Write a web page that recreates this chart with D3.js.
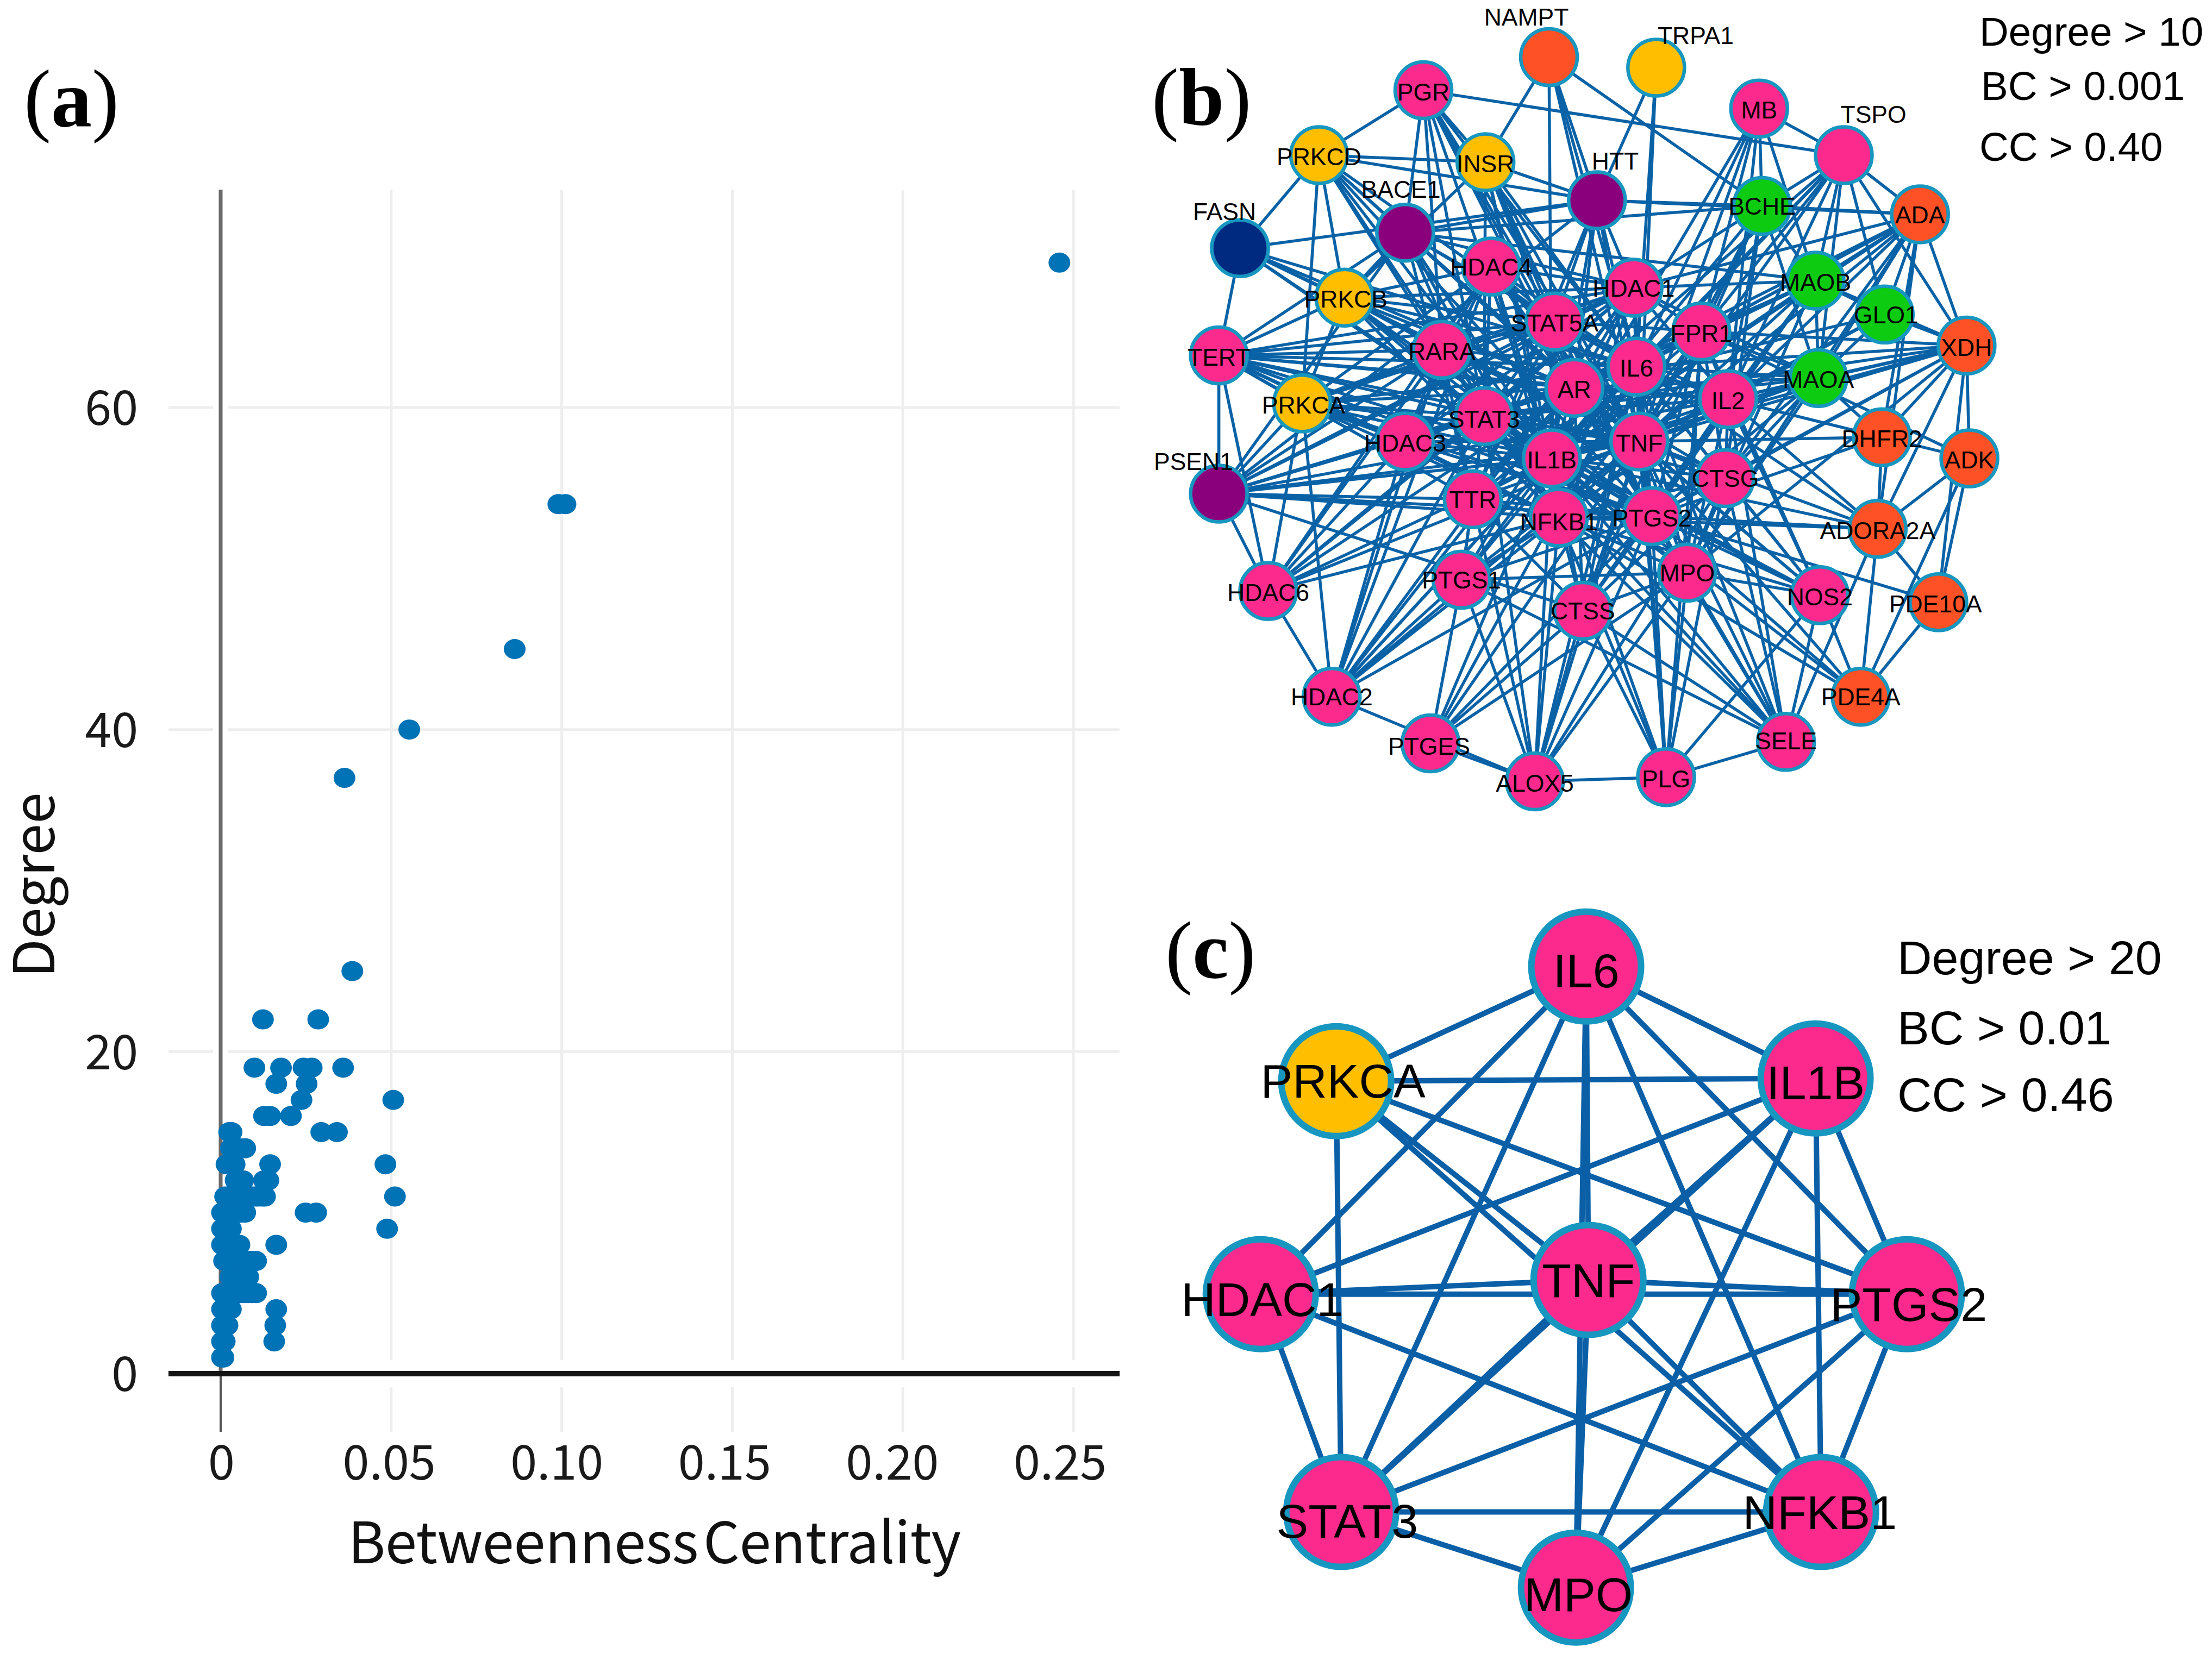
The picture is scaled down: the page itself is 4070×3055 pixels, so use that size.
<!DOCTYPE html>
<html>
<head>
<meta charset="utf-8">
<script src="https://cdn.jsdelivr.net/npm/d3@7/dist/d3.min.js"></script>
<style>
html,body{margin:0;padding:0;background:#fff}
svg{display:block}
</style>
</head>
<body>
<script>
// ---------- panel (a) data ----------
const xTickValues = [0, 0.05, 0.10, 0.15, 0.20, 0.25];
const xTickLabels = ["0", "0.05", "0.10", "0.15", "0.20", "0.25"];
const yTickValues = [0, 20, 40, 60];
const xAxisTitle = "Betweenness Centrality";
const yAxisTitle = "Degree";
const betweenness = [
  0.2459, 0.1011, 0.0990, 0.0862, 0.0553, 0.0363, 0.0386,
  0.0124, 0.0286,
  0.0099, 0.0177, 0.0243, 0.0267, 0.0359,
  0.0163, 0.0252,
  0.0237, 0.0506,
  0.0127, 0.0145, 0.0206,
  0.0025, 0.0032, 0.0295, 0.0341,
  0.0030, 0.0042, 0.0055, 0.0072,
  0.0017, 0.0030, 0.0041, 0.0145, 0.0483,
  0.0044, 0.0055, 0.0066, 0.0127, 0.0140,
  0.0013, 0.0022, 0.0030, 0.0040, 0.0050, 0.0060, 0.0070, 0.0080, 0.0090, 0.0100, 0.0110, 0.0122, 0.0130, 0.0511,
  0.0004, 0.0012, 0.0020, 0.0030, 0.0040, 0.0050, 0.0060, 0.0072, 0.0249, 0.0280,
  0.0004, 0.0011, 0.0018, 0.0030, 0.0488,
  0.0004, 0.0012, 0.0020, 0.0028, 0.0035, 0.0045, 0.0055, 0.0163,
  0.0010, 0.0020, 0.0030, 0.0040, 0.0050, 0.0060, 0.0070, 0.0080, 0.0092, 0.0104,
  0.0028, 0.0036, 0.0045, 0.0052, 0.0060, 0.0070, 0.0081,
  0.0004, 0.0012, 0.0020, 0.0030, 0.0040, 0.0050, 0.0060, 0.0070, 0.0080, 0.0092, 0.0104,
  0.0004, 0.0012, 0.0020, 0.0030, 0.0163,
  0.0004, 0.0012, 0.0020, 0.0160,
  0.0004, 0.0012, 0.0157,
  0.0004, 0.0008
];
const degreeA = [
  69, 54, 54, 45, 40, 37, 25,
  22, 22,
  19, 19, 19, 19, 19,
  18, 18,
  17, 17,
  16, 16, 16,
  15, 15, 15, 15,
  14, 14, 14, 14,
  13, 13, 13, 13, 13,
  12, 12, 12, 12, 12,
  11, 11, 11, 11, 11, 11, 11, 11, 11, 11, 11, 11, 11, 11,
  10, 10, 10, 10, 10, 10, 10, 10, 10, 10,
  9, 9, 9, 9, 9,
  8, 8, 8, 8, 8, 8, 8, 8,
  7, 7, 7, 7, 7, 7, 7, 7, 7, 7,
  6, 6, 6, 6, 6, 6, 6,
  5, 5, 5, 5, 5, 5, 5, 5, 5, 5, 5,
  4, 4, 4, 4, 4,
  3, 3, 3, 3,
  2, 2, 2,
  1, 1
];

// ---------- panel (b) data: layout ----------
const nodesB = ["NAMPT","TRPA1","PGR","MB","TSPO","PRKCD","INSR","HTT","BCHE","ADA","BACE1","FASN","HDAC4","HDAC1","MAOB","PRKCB","STAT5A","GLO1","FPR1","XDH","RARA","TERT","IL6","AR","MAOA","IL2","PRKCA","STAT3","HDAC3","TNF","DHFR2","ADK","IL1B","CTSG","TTR","PSEN1","NFKB1","PTGS2","ADORA2A","MPO","PTGS1","NOS2","HDAC6","PDE10A","CTSS","HDAC2","PDE4A","PTGES","SELE","PLG","ALOX5"];
const layoutXB = [1098,1174,1009,1247,1307,935,1053,1132,1249,1361,996,879,1057,1158,1287,953,1102,1336,1206,1394,1022,864,1160,1116,1289,1225,923,1052,996,1162,1334,1396,1100,1223,1044,864,1105,1171,1331,1196,1036,1290,899,1374,1122,944,1319,1014,1266,1181,1088];
const layoutYB = [40.5,48,64,77,110,110,115,142,146,152,165,176,189,204,199,211,228,223,235,245,248,252,260,275,268,283,286,295,313,313,310,325,325,339,354,350,367,366,375,406,411,422,419,427,433,494,494,527,526,551,554];
const groupB = ["enzyme","gold","pink","pink","pink","gold","gold","purple","green","enzyme","purple","navy","pink","pink","green","gold","pink","green","pink","enzyme","pink","pink","pink","pink","green","pink","gold","pink","pink","pink","enzyme","enzyme","pink","pink","pink","purple","pink","pink","enzyme","pink","pink","pink","pink","enzyme","pink","pink","enzyme","pink","pink","pink","pink"];
const labelXB = [1082,1202,1009,1247,1328,935,1053,1145,1249,1361,993,868,1057,1158,1287,954,1102,1337,1206,1394,1022,864,1160,1116,1289,1225,924,1052,996,1162,1334,1396,1100,1223,1044,846,1105,1171,1331,1196,1036,1290,899,1372,1122,944,1319,1013,1266,1181,1088];
const labelYB = [12,25,65,78,81,111,116,114,146,152,134,150,189,204,200,212,229,223,236,246,249,253,261,276,269,284,287,297,314,314,311,326,326,339,354,327,370,367,376,406,411,423,420,428,433,494,494,529,525,552,555];
// adjacency: first name in each row, then its neighbours
const adjacencyB = [
"TNF IL6 IL1B AR STAT3 NFKB1 PTGS2 IL2 FPR1 HDAC1 STAT5A RARA MPO CTSG TTR HDAC3 HDAC4 PTGS1 CTSS HDAC2 HDAC6 PRKCA PRKCB PRKCD INSR PGR NAMPT TRPA1 MB TSPO HTT BACE1 FASN TERT PSEN1 BCHE MAOB MAOA GLO1 ADA XDH DHFR2 ADORA2A PDE4A NOS2 SELE PLG ALOX5 PTGES",
"IL6 IL1B AR STAT3 NFKB1 PTGS2 IL2 FPR1 HDAC1 STAT5A RARA MPO CTSG TTR HDAC3 HDAC4 PTGS1 CTSS HDAC2 PRKCA PRKCB INSR PGR NAMPT TRPA1 MB TSPO HTT BACE1 FASN TERT PSEN1 MAOB MAOA ADA XDH ADORA2A NOS2 SELE PLG ALOX5 PTGES",
"IL1B AR STAT3 NFKB1 PTGS2 IL2 FPR1 HDAC1 STAT5A RARA MPO CTSG TTR HDAC3 HDAC4 PTGS1 CTSS HDAC2 HDAC6 PRKCA PRKCB PRKCD INSR PGR NAMPT MB TSPO HTT BACE1 FASN TERT PSEN1 BCHE MAOB MAOA ADA XDH ADORA2A PDE4A NOS2 SELE PLG ALOX5 PTGES",
"AR STAT3 NFKB1 PTGS2 IL2 FPR1 HDAC1 STAT5A RARA MPO CTSG TTR HDAC3 HDAC4 PTGS1 CTSS HDAC2 HDAC6 PRKCA PRKCB INSR PGR TSPO HTT BACE1 FASN TERT PSEN1 MAOB MAOA ADA GLO1 NOS2 SELE",
"STAT3 NFKB1 PTGS2 IL2 FPR1 HDAC1 STAT5A RARA MPO CTSG TTR HDAC3 HDAC4 PTGS1 HDAC2 HDAC6 PRKCA PRKCB PRKCD INSR PGR BACE1 FASN TERT PSEN1 MAOA XDH NOS2 SELE ALOX5",
"NFKB1 PTGS2 IL2 FPR1 HDAC1 STAT5A RARA MPO CTSG TTR HDAC3 HDAC4 PTGS1 CTSS HDAC2 HDAC6 PRKCA PRKCB PRKCD INSR HTT BACE1 TERT PSEN1 ADORA2A PDE4A NOS2 SELE PLG ALOX5",
"PTGS2 IL2 FPR1 HDAC1 STAT5A RARA MPO CTSG TTR HDAC3 HDAC4 PTGS1 CTSS HDAC2 PRKCA PRKCB PRKCD INSR TERT PSEN1 MAOB ADORA2A PDE4A NOS2 SELE PLG ALOX5 PTGES XDH",
"PTGS2 IL2 FPR1 HDAC1 STAT5A RARA MPO CTSG TTR PTGS1 CTSS PRKCA PRKCD PGR TERT PSEN1 ADORA2A MAOB MAOA XDH PDE4A PDE10A NOS2 SELE PLG ALOX5 PTGES DHFR2",
"IL2 FPR1 HDAC1 STAT5A MPO CTSG CTSS TSPO MB MAOA MAOB BCHE ADA XDH GLO1 DHFR2 ADORA2A NOS2 SELE TERT PSEN1",
"FPR1 HDAC1 STAT5A MPO CTSG MB MAOB MAOA BCHE ADA XDH TSPO ADK NOS2 PLG",
"HDAC1 STAT5A RARA HDAC3 HDAC4 HDAC2 HDAC6 TTR PRKCA PRKCB PSEN1 TERT BACE1 HTT BCHE MAOB MAOA ADA",
"STAT5A RARA HDAC3 HDAC4 TTR PRKCA PRKCB PRKCD PSEN1 TERT PGR INSR HTT BACE1",
"RARA HDAC3 HDAC4 TTR PRKCA PRKCB PGR TERT HDAC2 HDAC6 PSEN1",
"HDAC3 HDAC4 HDAC2 HDAC6 PRKCA TERT",
"HDAC4 HDAC2 HDAC6 PRKCA PRKCB",
"HDAC2 HDAC6",
"HDAC6 TERT PSEN1",
"TTR CTSS PTGS1 PSEN1 BACE1 HTT TERT ALOX5",
"MPO CTSS CTSG NOS2 SELE PLG ALOX5 PTGS1 PTGES ADA XDH MAOB MAOA",
"CTSG CTSS NOS2 SELE PLG ALOX5 XDH ADA MAOA BCHE",
"CTSS PLG ALOX5 PTGES SELE PSEN1 MAOB BCHE",
"PTGS1 ALOX5 PTGES HDAC2 SELE",
"SELE PLG ADORA2A",
"PLG ALOX5",
"ALOX5 PTGES HDAC2",
"PRKCA TERT PRKCB PRKCD PSEN1 HDAC2 HDAC6",
"PRKCB PRKCD FASN TERT INSR BACE1",
"PRKCD INSR PGR HTT BACE1",
"INSR PGR NAMPT HTT",
"PGR TSPO BACE1 PRKCD",
"NAMPT HTT BCHE",
"TRPA1 HTT",
"FASN HTT PRKCD TERT",
"TERT PSEN1 BACE1",
"BACE1 HTT PSEN1 BCHE MAOB",
"HTT BCHE PSEN1 ADA",
"MB TSPO BCHE MAOB",
"TSPO BCHE MAOB MAOA GLO1 XDH ADA",
"BCHE ADA MAOB MAOA",
"MAOB MAOA GLO1 XDH ADA",
"MAOA XDH ADA GLO1 DHFR2",
"GLO1 XDH ADA",
"ADA XDH DHFR2 ADORA2A",
"XDH ADK DHFR2 ADORA2A PDE10A",
"DHFR2 ADK ADORA2A",
"ADK ADORA2A PDE10A PDE4A",
"ADORA2A PDE10A PDE4A SELE",
"PDE10A PDE4A",
"NOS2 PDE4A PLG SELE",
];

// ---------- panel (c) data ----------
const nodesC = ["IL6","PRKCA","IL1B","HDAC1","TNF","PTGS2","STAT3","NFKB1","MPO"];
const groupC = ["pink","gold","pink","pink","pink","pink","pink","pink","pink"];
const layoutXC = [1124.4,947.2,1287,893.7,1126,1351.7,950.7,1290.9,1117.1];
const layoutYC = [685.3,766.6,764.6,917.6,907.5,917.6,1072,1072,1125.6];
const labelXC = [1124.4,952,1287,894.7,1126,1353,955,1290,1118.8];
const labelYC = [688,766,767,921,907.5,924.4,1078,1072,1130];
const adjacencyC = [
"IL6 PRKCA IL1B HDAC1 TNF PTGS2 STAT3 NFKB1 MPO",
"PRKCA IL1B TNF PTGS2 STAT3 NFKB1",
"IL1B HDAC1 TNF PTGS2 STAT3 NFKB1 MPO",
"HDAC1 TNF PTGS2 STAT3 NFKB1",
"TNF PTGS2 STAT3 NFKB1 MPO",
"PTGS2 STAT3 NFKB1 MPO",
"STAT3 NFKB1 MPO",
"NFKB1 MPO"
];

const panelLetters = ["a", "b", "c"];
const criteriaB = ["Degree > 10", "BC > 0.001", "CC > 0.40"];
const criteriaC = ["Degree > 20", "BC > 0.01", "CC > 0.46"];

const groupColors = {pink:"#fb2a8c", gold:"#ffbf00", enzyme:"#ff5126", green:"#0ccb10", purple:"#8a007c", navy:"#002a80"};

// ---------- drawing ----------
const W = 4070, H = 3055;
const svg = d3.select("body").append("svg").attr("width", W).attr("height", H).attr("viewBox", `0 0 ${W} ${H}`);
svg.append("rect").attr("width", W).attr("height", H).attr("fill", "#fff");

const CJK = "'Noto Sans CJK SC','Noto Sans',sans-serif";
const ARIAL = "'Liberation Sans',Arial,sans-serif";
const SERIF = "'Liberation Serif',serif";

// panel (a)
const xScale = d3.scaleLinear().domain([0, 0.25]).range([406, 1975]);
const xLabelPos = d3.scaleLinear().domain([0, 0.25]).range([407, 1950]);
const yScale = d3.scaleLinear().domain([0, 60]).range([2528, 750]);
const plotLeft = 310, plotRight = 2060, plotTop = 349, plotBottom = 2635;

const a = svg.append("g");
a.append("g").selectAll("line").data(yTickValues.slice(1)).join("line")
  .attr("x1", plotLeft).attr("x2", plotRight).attr("y1", d => yScale(d)).attr("y2", d => yScale(d))
  .attr("stroke", "#eeeeee").attr("stroke-width", 5);
a.append("g").selectAll("line").data(xTickValues.slice(1)).join("line")
  .attr("x1", d => xScale(d)).attr("x2", d => xScale(d)).attr("y1", plotTop).attr("y2", plotBottom)
  .attr("stroke", "#eeeeee").attr("stroke-width", 5);
// white halos round the axes
a.append("line").attr("x1", plotLeft).attr("x2", plotRight).attr("y1", yScale(0)).attr("y2", yScale(0)).attr("stroke", "#fff").attr("stroke-width", 50);
a.append("line").attr("x1", xScale(0)).attr("x2", xScale(0)).attr("y1", plotTop).attr("y2", plotBottom).attr("stroke", "#fff").attr("stroke-width", 28);
a.append("line").attr("x1", xScale(0)).attr("x2", xScale(0)).attr("y1", plotTop).attr("y2", yScale(0)).attr("stroke", "#6a6a6a").attr("stroke-width", 7);
a.append("line").attr("x1", xScale(0)).attr("x2", xScale(0)).attr("y1", yScale(0)).attr("y2", plotBottom).attr("stroke", "#555").attr("stroke-width", 4);
a.append("line").attr("x1", plotLeft).attr("x2", plotRight).attr("y1", yScale(0)).attr("y2", yScale(0)).attr("stroke", "#141414").attr("stroke-width", 10);

const xAxis = d3.axisBottom(xLabelPos).tickValues(xTickValues).tickSize(0).tickPadding(0)
  .tickFormat((d, i) => xTickLabels[i]);
const gx = a.append("g").attr("transform", "translate(0,2723)").call(xAxis);
gx.select(".domain").remove();
gx.selectAll("text").attr("y", 0).attr("dy", 0).attr("font-family", CJK).attr("font-size", 88).attr("fill", "#1a1a1a").attr("text-anchor", "middle");

const yAxis = d3.axisLeft(yScale).tickValues(yTickValues).tickSize(0).tickPadding(0);
const gy = a.append("g").attr("transform", "translate(254,0)").call(yAxis);
gy.select(".domain").remove();
gy.selectAll("text").attr("x", 0).attr("dy", "0.36em").attr("font-family", CJK).attr("font-size", 88).attr("fill", "#1a1a1a").attr("text-anchor", "end");

a.append("text").attr("x", 1204).attr("y", 2877).attr("text-anchor", "middle")
  .attr("font-family", CJK).attr("font-size", 105).attr("fill", "#111").attr("word-spacing", "-14").attr("letter-spacing", "-0.5").text(xAxisTitle);
a.append("text").attr("transform", "translate(100,1629) rotate(-90)").attr("text-anchor", "middle")
  .attr("font-family", CJK).attr("font-size", 104).attr("fill", "#111").text(yAxisTitle);

a.append("g").selectAll("ellipse").data(betweenness.map((b, i) => ({b, d: degreeA[i]}))).join("ellipse")
  .attr("cx", d => xScale(d.b)).attr("cy", d => yScale(d.d)).attr("rx", 20).attr("ry", 18.5).attr("fill", "#0072b6");

// network helper
const layoutScale = d3.scaleLinear().domain([0, 1568]).range([0, W]);
function drawNetwork(names, groups, lx, ly, tx, ty, adj, opt) {
  const g = svg.append("g");
  const idx = new Map(names.map((n, i) => [n, i]));
  const seen = new Set(), edges = [];
  adj.forEach(row => {
    const parts = row.split(" ");
    parts.slice(1).forEach(t => {
      const k = [parts[0], t].sort().join("|");
      if (!seen.has(k) && t !== parts[0]) { seen.add(k); edges.push([idx.get(parts[0]), idx.get(t)]); }
    });
  });
  g.append("g").selectAll("line").data(edges).join("line")
    .attr("x1", d => layoutScale(lx[d[0]])).attr("y1", d => layoutScale(ly[d[0]]))
    .attr("x2", d => layoutScale(lx[d[1]])).attr("y2", d => layoutScale(ly[d[1]]))
    .attr("stroke", opt.edge).attr("stroke-width", opt.edgeW);
  g.append("g").selectAll("circle").data(names).join("circle")
    .attr("cx", (d, i) => layoutScale(lx[i])).attr("cy", (d, i) => layoutScale(ly[i]))
    .attr("r", opt.r).attr("fill", (d, i) => groupColors[groups[i]])
    .attr("stroke", "#1796c0").attr("stroke-width", opt.nodeW);
  g.append("g").selectAll("text").data(names).join("text")
    .attr("x", (d, i) => layoutScale(tx[i])).attr("y", (d, i) => layoutScale(ty[i]))
    .attr("dy", "0.36em").attr("text-anchor", "middle")
    .attr("font-family", ARIAL).attr("font-size", opt.font).attr("fill", "#000").text(d => d);
}
drawNetwork(nodesB, groupB, layoutXB, layoutYB, labelXB, labelYB, adjacencyB,
  {edge:"#0a62a6", edgeW:5.5, r:52, nodeW:6.5, font:44.5});
drawNetwork(nodesC, groupC, layoutXC, layoutYC, labelXC, labelYC, adjacencyC,
  {edge:"#0a5fa6", edgeW:10, r:101, nodeW:12, font:88});

// criteria text
const critB = [[3642,84],[3645,184],[3642,296]];
svg.append("g").selectAll("text").data(criteriaB).join("text")
  .attr("x", (d,i) => critB[i][0]).attr("y", (d,i) => critB[i][1])
  .attr("font-family", ARIAL).attr("font-size", 74.5).attr("fill", "#000").text(d => d);
const critC = [[3491,1793],[3491,1922],[3491,2045]];
svg.append("g").selectAll("text").data(criteriaC).join("text")
  .attr("x", (d,i) => critC[i][0]).attr("y", (d,i) => critC[i][1])
  .attr("font-family", ARIAL).attr("font-size", 88).attr("fill", "#000").text(d => d);

// panel letters: thin brackets, bold letter
const letterPos = [[44,232],[2119,230],[2144,1800]];
const letters = svg.append("g").selectAll("text").data(panelLetters).join("text")
  .attr("x", (d,i) => letterPos[i][0]).attr("y", (d,i) => letterPos[i][1])
  .attr("font-family", SERIF).attr("font-size", 150).attr("fill", "#000");
letters.append("tspan").text("(");
letters.append("tspan").attr("font-weight", "bold").text(d => d);
letters.append("tspan").text(")");
</script>
</body>
</html>
